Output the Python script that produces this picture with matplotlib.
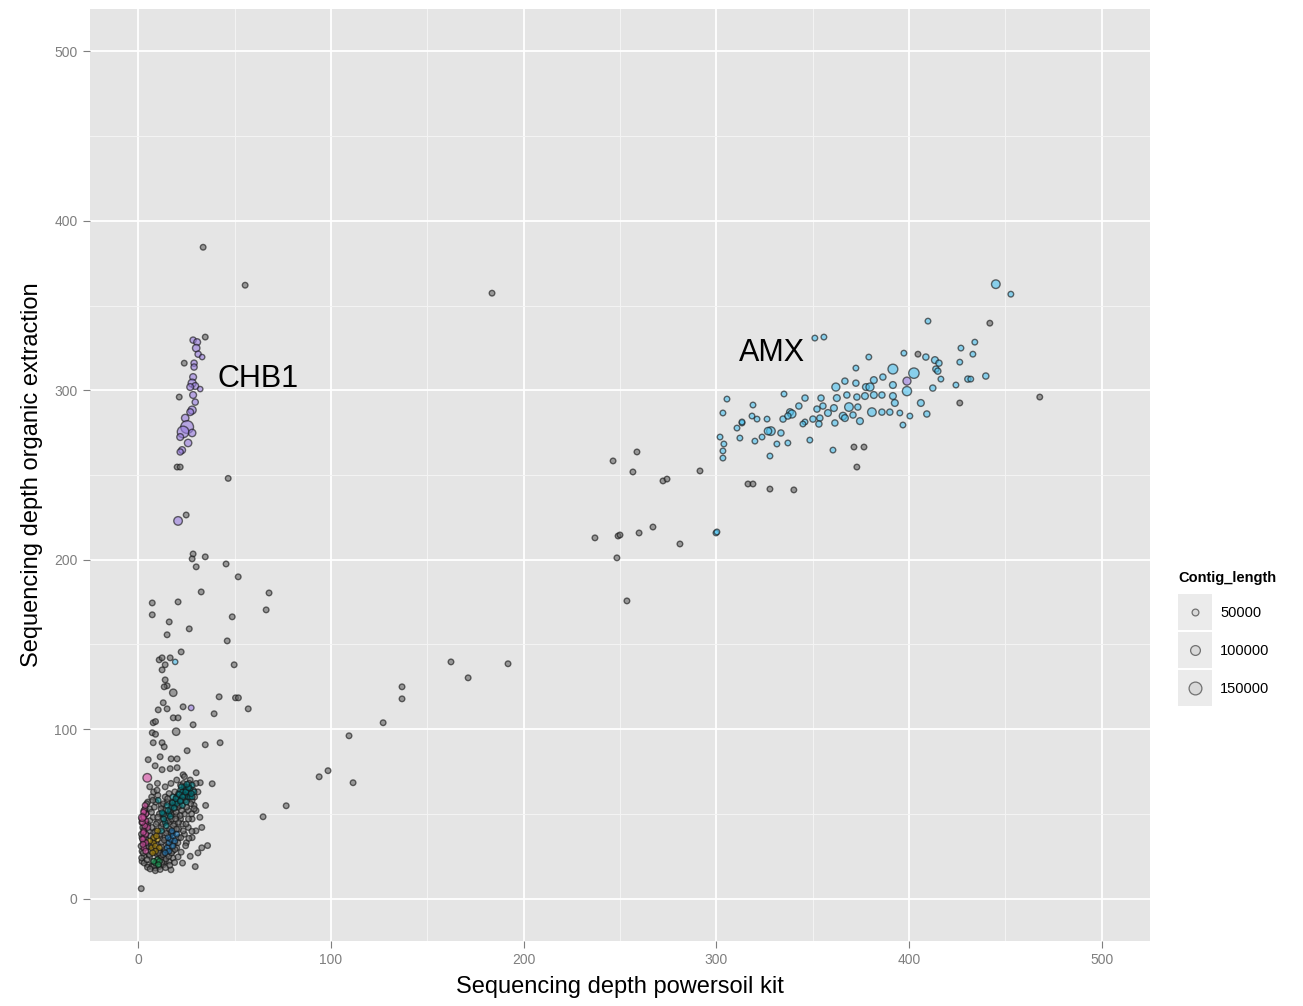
import matplotlib
matplotlib.use("Agg")
import matplotlib.pyplot as plt
from matplotlib.patches import Rectangle
import numpy as np

plt.rcParams['font.family'] = ['Liberation Sans', 'DejaVu Sans']

# ---------------- data ----------------
# unbinned contigs (grey): x, y
grey_x = [33.7, 55.5, 183.6, 467.8, 46.7, 24.9, 28.5, 28.0, 34.8, 30.1, 45.6, 51.9, 32.7, 67.9, 66.4,
          48.8, 26.5, 46.2, 22.3, 49.8, 42.0, 50.5, 52.0, 23.3, 57.1, 39.4, 28.5,
          162.3, 171.2, 191.9, 136.9, 136.9, 127.1, 109.4, 98.5, 93.9, 111.5, 76.8, 64.8,
          246.4, 258.8, 256.7, 272.3, 274.4, 291.5, 237.0, 249.0, 250.0, 259.9, 267.1, 281.1, 248.4, 253.6,
          441.9, 404.6, 426.3, 372.9, 371.4, 376.6, 340.2, 327.8, 316.4, 319.0,
          7.3, 20.7, 7.3, 16.1, 15.0, 10.9, 12.4, 16.6, 14.0, 12.4, 14.0, 15.0, 13.5, 18.2, 13.0, 10.4, 15.0,
          7.8, 9.0, 18.2, 20.7, 19.7, 7.3, 9.0, 7.8, 12.4, 13.5, 34.8, 42.5, 25.4, 5.2, 11.4, 17.1, 20.2,
          8.8, 12.4, 16.6, 20.2, 23.3, 30.1, 32.2, 38.4, 20.2, 21.8, 23.9, 21.3, 34.8,
          2, 3, 2, 4, 3, 2, 4, 3, 5, 2, 4, 6, 5, 7, 8, 6,
          5, 7, 9, 11, 13, 8, 10, 12, 14, 6, 9, 11, 13, 15, 7, 10, 12, 16, 8, 11, 14, 17, 9, 12, 15, 18,
          10, 13, 16, 19, 11, 14, 17, 20, 12, 15, 18, 21, 23, 25, 27, 24, 22, 26, 28, 20, 19, 16, 14,
          22, 24, 26, 21, 23, 19, 21, 18, 20, 16, 18, 24, 26, 28, 30, 29, 25,
          29.6, 23, 33, 36, 31, 28, 32, 35, 1.6, 17, 27, 30, 33, 31, 30, 27, 24, 20, 17, 10, 14,
          1.8, 2.6, 1.5, 2.9, 1.7, 2.4, 1.9, 2.8, 3.6, 4.4, 3.1, 4.6, 5.8, 6.7, 5.2, 4.1, 6.3, 5.4, 7.2, 6.1,
          7.8, 6.9, 8.4, 9.1, 7.6, 10.2, 9.8, 8.2, 10.6, 12.3, 14.4, 11.7, 9.6, 13.8, 12.1, 15.2, 13.6,
          11.3, 14.7, 16.3, 12.8, 15.6, 17.4, 13.9, 16.8, 18.6, 19.7, 21.4, 20.3, 22.7, 24.2, 25.8, 23.5,
          26.4, 28.6, 29.3, 27.2, 25.1, 22.6, 17.9, 15.3, 13.1, 11.9, 10.1, 9.3, 8.6, 7.9, 6.8, 8.1, 10.8,
          12.9, 15.9, 17.3, 19.1, 20.6, 22.1, 23.4, 24.8, 26.1, 27.7, 29.1, 20.9, 18.3, 21.8, 19.4, 17.1,
          19.9, 4.8, 6.2, 8.9, 11.4, 14.2, 16.4, 18.9, 20.7, 22.3, 24.6, 26.3, 27.9]
grey_y = [384.4, 362.0, 357.3, 296.0, 248.0, 226.4, 203.4, 200.5, 201.7, 195.8, 197.5, 189.9, 181.0, 180.4, 170.4,
          166.3, 159.2, 152.1, 145.6, 138.0, 119.1, 118.5, 118.5, 113.2, 112.0, 109.1, 102.6,
          139.7, 130.3, 138.6, 125.0, 117.9, 103.8, 96.1, 75.5, 71.9, 68.4, 54.8, 48.3,
          258.3, 263.6, 251.8, 246.5, 247.6, 252.4, 212.9, 214.0, 214.6, 215.8, 219.3, 209.3, 201.1, 175.7,
          339.6, 321.3, 292.5, 254.7, 266.5, 266.5, 241.2, 241.7, 244.7, 244.7,
          174.5, 175.1, 167.5, 163.3, 155.7, 140.9, 142.1, 142.1, 138.0, 135.0, 129.1, 125.6, 125.0, 121.5, 115.6, 111.4, 112.0,
          103.8, 104.5, 106.7, 106.7, 98.5, 97.9, 97.0, 92.0, 92.0, 89.6, 90.8, 92.0, 87.3, 82.0, 83.7, 82.5, 82.5,
          78.4, 76.1, 76.7, 77.3, 73.1, 74.3, 68.4, 67.8, 254.7, 254.7, 316.0, 296.0, 331.4,
          22, 25, 28, 30, 33, 36, 38, 41, 44, 47, 50, 53, 57, 60, 63, 66,
          20, 19, 18, 19, 20, 22, 23, 24, 22, 25, 27, 28, 27, 26, 31, 32, 33, 31, 35, 37, 36, 35, 40, 42, 40, 39,
          45, 47, 45, 44, 50, 52, 50, 49, 55, 57, 55, 54, 58, 60, 62, 64, 67, 66, 58, 60, 63, 62, 60,
          47, 50, 52, 41, 44, 33, 36, 28, 30, 22, 24, 38, 42, 47, 52, 55, 33,
          18.9, 21, 30, 31.3, 27, 36, 48, 55, 5.9, 17, 25, 40, 42, 63, 68, 70, 72, 70, 68, 68, 66,
          24, 27, 31, 34, 38, 42, 45, 49, 53, 56, 21, 23, 26, 28, 31, 35, 37, 40, 42, 46,
          48, 51, 54, 57, 58, 61, 64, 19.5, 20.5, 21.5, 23.5, 25.5, 26.5, 29, 30.5, 33, 34.5,
          38, 38.5, 41, 44, 46, 47, 49, 52, 53, 51, 55, 58, 61, 58, 62, 68,
          68, 64, 60, 56, 54, 52, 57, 59, 56, 53, 48, 44, 39, 35, 32, 29, 27,
          26, 25, 27, 29, 33, 36, 40, 44, 47, 50, 53, 45, 43, 49, 47, 39,
          41, 18.5, 17.5, 16.5, 17.2, 18.3, 19.7, 21.3, 24.6, 27.4, 31.2, 35.6, 39.7]
grey_len = [30000] * len(grey_x)
grey_len[grey_x.index(18.2)] = 60000   # ring near (18, 121)
grey_len[grey_x.index(19.7)] = 60000   # ring near (20, 98)

# AMX bin (light blue): x, y, contig length
amx_x = [445.0, 452.8, 409.8, 351.1, 355.8, 434.1, 426.9, 433.1, 379.1, 397.3, 408.7, 413.4, 415.5, 426.3,
         372.4, 391.6, 402.5, 413.9, 414.9, 416.5, 430.5, 432.0, 439.8, 424.3, 412.3, 398.9, 406.1, 392.6,
         400.4, 409.2, 396.8, 380.7, 374.5, 368.8, 362.0, 362.5, 366.7, 372.4, 377.6, 381.7, 386.4, 379.7,
         381.7, 385.9, 391.6, 391.6, 367.7, 372.9, 377.1, 373.4, 365.7, 361.0, 355.3, 352.2, 357.9, 353.7,
         350.1, 346.0, 353.2, 361.5, 366.7, 370.9, 385.9, 390.0, 395.2, 346.0, 354.3, 342.8, 338.2, 339.2,
         335.1, 319.0, 305.5, 303.4, 313.3, 318.5, 321.1, 326.3, 334.6, 337.1, 328.3, 326.8, 333.5, 331.4,
         337.1, 348.5, 344.9, 360.5, 301.9, 303.9, 303.4, 303.4, 310.7, 313.3, 312.2, 320.0, 323.7, 327.8,
         299.8, 300.3, 19.2]
amx_y = [362.6, 356.7, 340.8, 330.8, 331.4, 328.4, 324.9, 321.3, 319.6, 321.9, 319.6, 317.8, 316.0, 316.6,
         313.1, 312.5, 310.1, 312.5, 311.3, 306.6, 306.6, 306.6, 308.4, 303.1, 301.3, 299.5, 292.5, 292.5,
         284.8, 286.0, 279.5, 287.1, 281.8, 290.1, 301.9, 295.4, 305.4, 304.2, 301.9, 306.0, 307.8, 301.9,
         297.2, 297.2, 303.1, 296.6, 297.2, 296.0, 296.6, 290.1, 284.8, 289.5, 290.7, 288.9, 286.6, 283.6,
         283.0, 281.3, 280.1, 280.7, 283.6, 285.4, 287.1, 287.1, 286.6, 295.4, 295.4, 290.7, 287.1, 286.0,
         297.8, 291.3, 294.8, 286.6, 280.7, 284.8, 283.0, 283.0, 283.0, 284.8, 275.9, 275.9, 274.8, 268.3,
         268.9, 270.6, 280.1, 264.7, 272.4, 268.3, 264.2, 260.0, 277.7, 281.3, 271.8, 270.0, 272.4, 261.2,
         215.8, 216.4, 139.7]
amx_len = [80000, 30000, 30000, 30000, 30000, 30000, 30000, 30000, 30000, 30000, 40000, 50000, 40000, 30000,
           30000, 100000, 110000, 40000, 40000, 30000, 40000, 30000, 40000, 30000, 40000, 90000, 50000, 50000,
           30000, 40000, 30000, 80000, 50000, 80000, 70000, 50000, 40000, 40000, 50000, 50000, 40000, 70000,
           50000, 40000, 50000, 50000, 40000, 40000, 50000, 40000, 60000, 50000, 40000, 40000, 50000, 40000,
           40000, 30000, 40000, 40000, 50000, 40000, 40000, 40000, 30000, 40000, 40000, 40000, 50000, 70000,
           30000, 30000, 30000, 30000, 30000, 30000, 30000, 30000, 40000, 40000, 80000, 60000, 40000, 30000,
           30000, 30000, 30000, 30000, 30000, 30000, 30000, 30000, 30000, 30000, 30000, 30000, 30000, 30000,
           30000, 30000, 25000]

# CHB1 bin (purple)
chb_x = [28.5, 30.6, 30.1, 31.1, 33.2, 29.0, 29.0, 28.5, 28.0, 29.6, 27.0, 32.2, 28.5, 29.6, 28.0, 27.0,
         24.4, 25.4, 23.3, 28.0, 21.8, 25.9, 22.8, 21.8, 20.7, 27.5, 398.9]
chb_y = [329.6, 328.4, 324.9, 321.3, 319.6, 316.0, 313.7, 307.8, 304.2, 302.5, 301.9, 300.7, 297.2, 293.0,
         288.3, 287.1, 283.6, 278.3, 275.4, 274.8, 272.4, 268.9, 264.7, 263.6, 222.9, 112.6, 305.4]
chb_len = [40000, 50000, 60000, 40000, 25000, 40000, 40000, 50000, 70000, 50000, 50000, 25000, 50000, 40000,
           70000, 50000, 60000, 150000, 130000, 60000, 50000, 60000, 50000, 40000, 80000, 30000, 70000]

# other bins inside the low-coverage cluster
teal_x = [14, 16, 17, 19, 20, 21, 22, 23, 24, 25, 26, 27, 28, 22, 24, 26, 12, 13, 15, 18, 20, 23, 25, 27,
          29, 28, 10.4, 12.4, 15.5, 17.8, 19.6, 21.3, 23.1, 24.7, 26.2, 27.6, 22.4, 25.3, 18.7, 21.9, 16.7,
          14.6, 13.3]
teal_y = [45, 50, 54, 57, 60, 62, 64, 63, 66, 64, 63, 65, 67, 58, 61, 60, 40, 50, 55, 60, 56, 55, 57, 60,
          63, 60, 58, 50.7, 52, 56.5, 59, 61.5, 60, 63, 65.5, 62, 66, 67.5, 53.5, 57.5, 48.5,
          43, 47]
pink_x = [3, 3, 4, 4, 3, 4, 3, 4, 3, 5, 4, 2.3, 2.7, 3.4, 2.2, 2.8, 3.6, 2.5, 3.9, 4.7, 2.1]
pink_y = [36, 40, 44, 46, 48, 50, 52, 33, 30, 42, 38, 35, 39, 43, 45, 51, 55, 32, 28, 71.3, 47.8]
pink_len = [30000] * 19 + [80000, 60000]
yellow_x = [7, 8, 9, 10, 8, 6, 11, 9, 10, 7.5, 9.5]
yellow_y = [30, 33, 31, 35, 36, 34, 30, 28, 40, 27, 37]
blue_x = [15, 16, 17, 18, 19, 16, 14, 18, 20, 17.5, 15.5]
blue_y = [30, 33, 35, 37, 34, 28, 27, 31, 38, 40, 36]
green_x = [9, 10, 11, 8, 10.5]
green_y = [21, 23, 22, 22, 20]

legend_values = [50000, 100000, 150000]
legend_labels = ["50000", "100000", "150000"]
annotations = [("CHB1", 62.0, 306.6), ("AMX", 328.8, 321.9)]

# ---------------- drawing ----------------
W, H, DPI = 1303, 1006, 100
fig = plt.figure(figsize=(W / DPI, H / DPI), dpi=DPI)
fig.patch.set_facecolor("white")
ax = fig.add_axes([90 / W, 1 - 941 / H, 1060 / W, 932 / H])
ax.set_facecolor("#E5E5E5")


def size_of(length):
    d_px = 3.8 + 3.0 * np.asarray(length, dtype=float) / 50000.0
    return (d_px * 72.0 / DPI) ** 2


EDGE = (0.08, 0.08, 0.08, 0.8)


def draw(xs, ys, lens, color):
    ax.scatter(xs, ys, s=size_of(lens), c=[color], alpha=0.62,
               edgecolors=[EDGE], linewidths=1.0, zorder=3)


draw(grey_x, grey_y, grey_len, "#6A6A6A")
draw(teal_x, teal_y, [30000] * len(teal_x), "#007A80")
draw(yellow_x, yellow_y, [30000] * len(yellow_x), "#B8900A")
draw(blue_x, blue_y, [30000] * len(blue_x), "#1870B0")
draw(green_x, green_y, [30000] * len(green_x), "#1A9A55")
draw(pink_x, pink_y, pink_len, "#D94FA6")
draw(amx_x, amx_y, amx_len, "#4FC3F0")
draw(chb_x, chb_y, chb_len, "#9A7FE0")

for txt, tx, ty in annotations:
    ax.text(tx, ty, txt, fontsize=22, ha="center", va="center", color="black", zorder=5)

ax.set_xlim(-25, 525)
ax.set_ylim(-25, 525)
ticks = [0, 100, 200, 300, 400, 500]
ax.set_xticks(ticks)
ax.set_yticks(ticks)
ax.set_xticks([50, 150, 250, 350, 450], minor=True)
ax.set_yticks([50, 150, 250, 350, 450], minor=True)
ax.grid(which="major", color="white", linewidth=1.3, zorder=0)
ax.grid(which="minor", color="#F4F4F4", linewidth=0.7, zorder=0)
ax.set_axisbelow(True)
for sp in ax.spines.values():
    sp.set_visible(False)
ax.tick_params(which="major", length=5, width=0.8, color="#7F7F7F", labelcolor="#7F7F7F",
               labelsize=10, pad=4)
ax.tick_params(which="minor", length=0)
ax.set_xlabel("Sequencing depth powersoil kit", fontsize=17, labelpad=6)
ax.set_ylabel("Sequencing depth organic extraction", fontsize=17, labelpad=8)

# legend drawn in its own small axes (pixel coordinates)
lax = fig.add_axes([1170 / W, 1 - 715 / H, 133 / W, 160 / H])
lax.set_xlim(1170, 1303)
lax.set_ylim(715, 555)
lax.axis("off")
lax.text(1178, 578, "Contig_length", fontsize=10.5, fontweight="bold", va="center", ha="left")
for i, (v, lab) in enumerate(zip(legend_values, legend_labels)):
    cy = 612 + 38 * i
    lax.add_patch(Rectangle((1178, cy - 18), 34, 36, facecolor="#EBEBEB", edgecolor="none"))
    lax.scatter([1195], [cy], s=size_of(v), facecolors=["#D5D5D5"], edgecolors=["#555555"],
                linewidths=0.9, alpha=0.8)
    lax.text(1220, cy + 1, lab, fontsize=10.5, va="center", ha="left")

fig.savefig("out.png", dpi=DPI)
